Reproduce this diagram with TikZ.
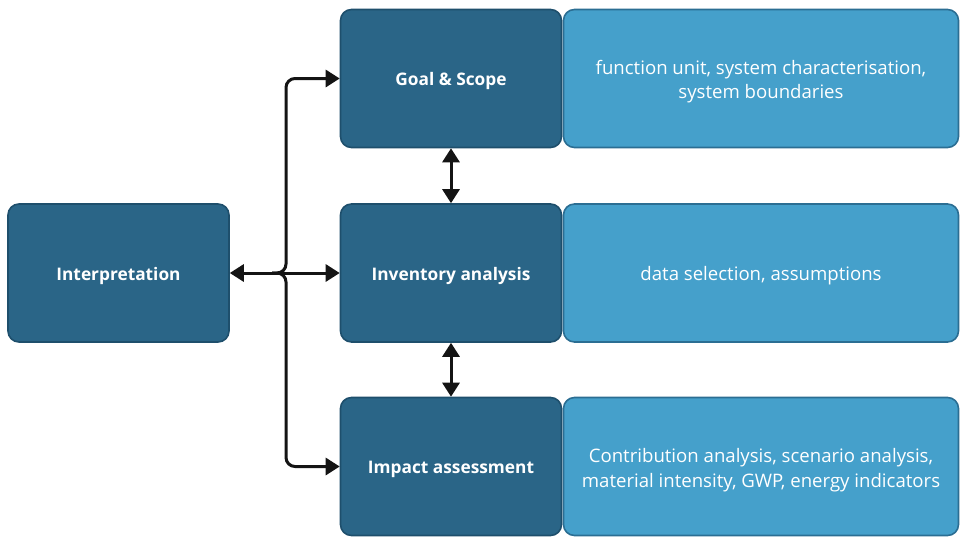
\documentclass[tikz,border=0pt]{standalone}
\usepackage{fontspec}
\setmainfont{Open Sans}
\usetikzlibrary{arrows.meta}
\definecolor{stagefill}{HTML}{2A6587}
\definecolor{stageedge}{HTML}{1E4F6C}
\definecolor{notefill}{HTML}{45A0CB}
\definecolor{noteedge}{HTML}{2B6E93}
\definecolor{linkcol}{HTML}{141414}
\tikzset{
  stage/.style={draw=stageedge, fill=stagefill, line width=1.6pt, rounded corners=11pt,
    minimum width=221pt, minimum height=138pt, inner sep=0pt},
  note/.style={draw=noteedge, fill=notefill, line width=1.6pt, rounded corners=11pt,
    minimum width=395pt, minimum height=138pt, inner sep=0pt},
  stagetext/.style={inner sep=0pt, text=white, align=center,
    font=\bfseries\fontsize{17.3}{22}\selectfont},
  notetext/.style={inner sep=0pt, text=white, align=center,
    font=\fontsize{18.6}{24.5}\selectfont},
  link/.style={draw=linkcol, line width=3pt, -{Triangle[length=14pt,width=17pt]}},
  backlink/.style={draw=linkcol, line width=3pt, {Triangle[length=14pt,width=17pt]}-},
  duplink/.style={draw=linkcol, line width=3pt,
    {Triangle[length=14pt,width=17pt]}-{Triangle[length=14pt,width=17pt]}},
}
\begin{document}
\begin{tikzpicture}[x=1pt, y=-1pt]
\useasboundingbox (0,0) rectangle (960,536);
\clip (0,0) rectangle (960,536);
\fill[white] (0,0) rectangle (960,536);

% life-cycle stages
\node[stage] (interp) at (118.5,273) {};
\node[stage] (goal)   at (451,78.5) {};
\node[stage] (inv)    at (451,273) {};
\node[stage] (imp)    at (451,466.5) {};
\node[stagetext] (interptext) at ([yshift=-3pt]interp.center) {Interpretation};
\node[stagetext] (goaltext)   at ([yshift=-3pt]goal.center) {Goal \& Scope};
\node[stagetext] (invtext)    at ([yshift=-3pt]inv.center) {Inventory analysis};
\node[stagetext] (imptext)    at ([yshift=-3pt]imp.center) {Impact assessment};

% notes beside each stage
\node[note] (goalnote) at (761,78.5) {};
\node[note] (invnote)  at (761,273) {};
\node[note] (impnote)  at (761,466.5) {};
\node[notetext] (goalnotetext) at ([yshift=-3pt]goalnote.center)
  {function unit, system characterisation,\\system boundaries};
\node[notetext] (invnotetext)  at ([yshift=-3pt]invnote.center)
  {data selection, assumptions};
\node[notetext] (impnotetext)  at ([yshift=-3.5pt]impnote.center)
  {Contribution analysis, scenario analysis,\\material intensity, GWP, energy indicators};

% branching connectors from interpretation
\coordinate (hub) at (272,273);
\coordinate (trunk) at (286,273);
\draw[backlink] (interp.east) -- (hub);
\draw[link] (hub) -- (inv.west);
\draw[link, rounded corners=9pt] (hub) -- (trunk) |- (goal.west);
\draw[link, rounded corners=9pt] (hub) -- (trunk) |- (imp.west);

% links between consecutive stages
\draw[duplink] (goal.south) -- (inv.north);
\draw[duplink] (inv.south) -- (imp.north);
\end{tikzpicture}
\end{document}
